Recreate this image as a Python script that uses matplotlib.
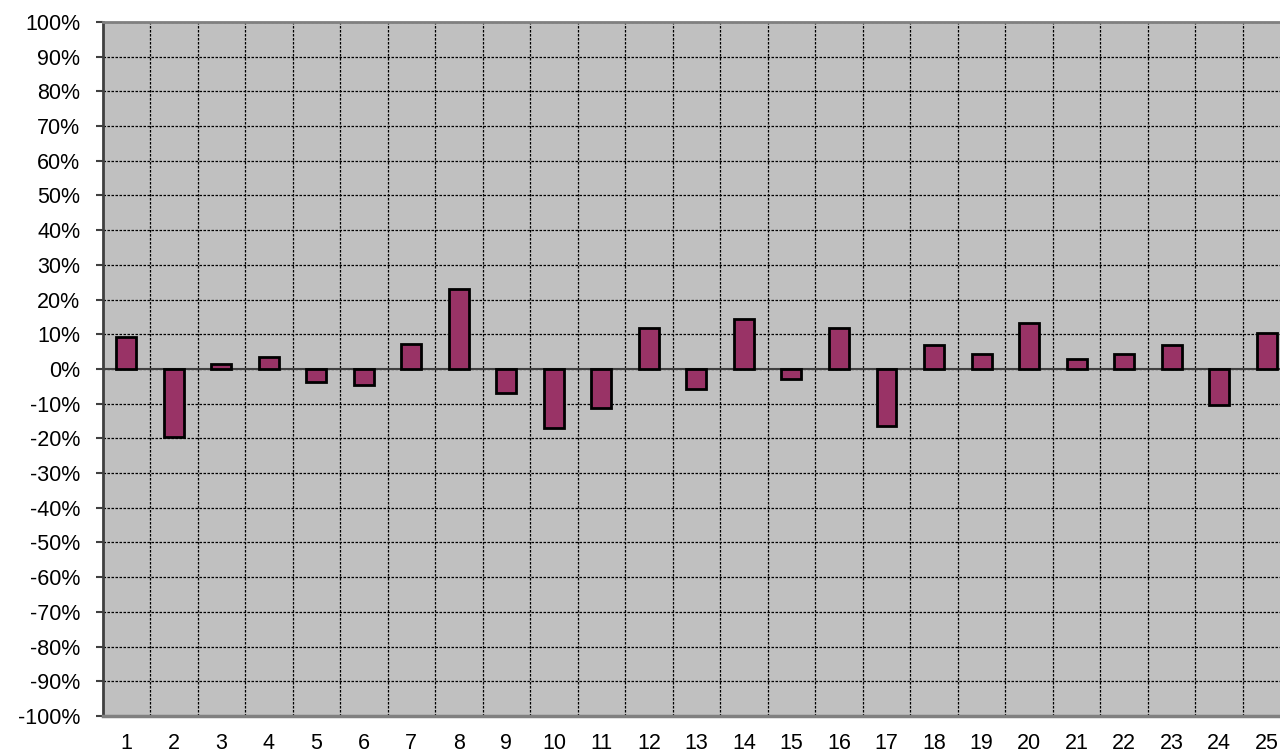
import matplotlib.pyplot as plt
import numpy as np
from matplotlib.ticker import FixedLocator, PercentFormatter

plt.rcParams['font.family'] = ['Liberation Sans', 'DejaVu Sans']
plt.rcParams['axes.unicode_minus'] = False

# data (percent)
categories = list(range(1, 26))
values = [9.1, -19.7, 1.3, 3.4, -3.8, -4.5, 7.2, 23.1, -6.9, -17.0,
          -11.3, 11.8, -5.8, 14.4, -2.9, 11.8, -16.3, 6.9, 4.3, 13.2,
          2.9, 4.3, 6.9, -10.3, 10.3]
y_ticks = list(range(-100, 101, 10))

fig = plt.figure(figsize=(12.8, 7.55), dpi=100)
ax = fig.add_axes([0.0801, 0.0517, 0.928, 0.9192])
ax.set_facecolor('#C0C0C0')

x = np.arange(len(categories)) + 1
ax.bar(x, values, width=0.42, color='#993366', edgecolor='black',
       linewidth=2, zorder=3)

ax.set_xlim(0.5, len(categories) + 0.5)
ax.set_ylim(-100, 100)

# grid: horizontal at every 10 %, vertical between categories
for yv in y_ticks:
    ax.axhline(yv, color='black', linewidth=0.9, linestyle=(0, (2, 1.2)), zorder=1)
for xb in np.arange(1.5, len(categories), 1.0):
    ax.axvline(xb, color='black', linewidth=0.9, linestyle=(0, (2, 1.2)), zorder=1)
ax.axhline(0, color='#404040', linewidth=1.5, zorder=2)

ax.yaxis.set_major_locator(FixedLocator(y_ticks))
ax.yaxis.set_major_formatter(PercentFormatter(decimals=0))
ax.set_xticks(x)
ax.set_xticklabels([str(c) for c in categories])

ax.tick_params(axis='y', direction='out', length=5, width=1.5, color='#404040',
               labelsize=15.5, pad=11)
ax.tick_params(axis='x', length=0, labelsize=15.5, pad=12)

ax.spines['left'].set_color('#404040')
ax.spines['left'].set_linewidth(2)
ax.spines['bottom'].set_color('#808080')
ax.spines['bottom'].set_linewidth(2.5)
ax.spines['top'].set_color('#808080')
ax.spines['top'].set_linewidth(2)
ax.spines['right'].set_visible(False)

fig.savefig('out.png', dpi=100)
